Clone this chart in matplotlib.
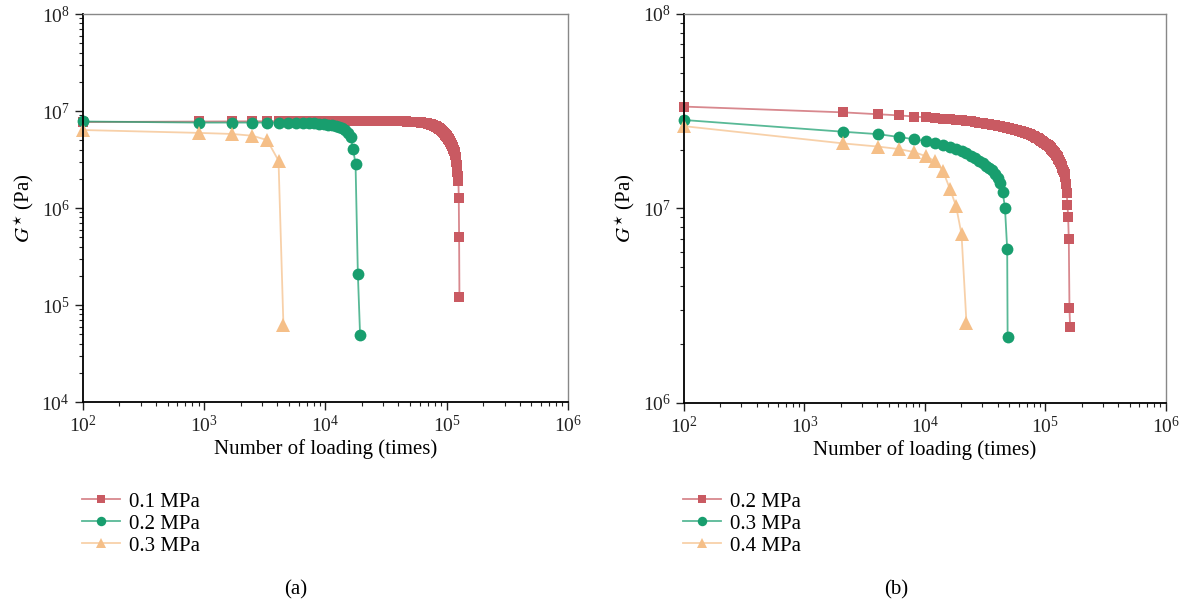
import numpy as np
import matplotlib.pyplot as plt
from matplotlib.ticker import LogLocator, NullFormatter
from matplotlib.colors import to_rgba

plt.rcParams['font.family'] = ['Liberation Serif', 'DejaVu Serif']
plt.rcParams['mathtext.fontset'] = 'stix'

# ---- (a) data: G* in MPa-scale (x1e6 Pa) ----
a_red_x = [
    100, 900, 1700, 2500, 3300, 4100, 4900, 5700, 6500, 7300,
    8100, 8900, 9700, 10500, 11300, 12100, 12900, 13700, 14500, 15300,
    16100, 16900, 17700, 18500, 19300, 20100, 20900, 21700, 22500, 23300,
    24100, 24900, 25700, 26500, 27300, 28100, 28900, 29700, 30500, 31300,
    32100, 32900, 33700, 34500, 35300, 36100, 36900, 37700, 38500, 39300,
    40100, 40900, 41700, 42500, 43300, 44100, 44900, 45700, 46500, 47300,
    48100, 48900, 49700, 50500, 51300, 52100, 52900, 53700, 54500, 55300,
    56100, 56900, 57700, 58500, 59300, 60100, 60900, 61700, 62500, 63300,
    64100, 64900, 65700, 66500, 67300, 68100, 68900, 69700, 70500, 71300,
    72100, 72900, 73700, 74500, 75300, 76100, 76900, 77700, 78500, 79300,
    80100, 80900, 81700, 82500, 83300, 84100, 84900, 85700, 86500, 87300,
    88100, 88900, 89700, 90500, 91300, 92100, 92900, 93700, 94500, 95300,
    96100, 96900, 97700, 98500, 99300, 100100, 100900, 101700, 102500, 103300,
    104100, 104900, 105700, 106500, 107300, 108100, 108900, 109700, 110500, 111300,
    112100, 112900, 113700, 114500, 115300, 116100, 116900, 117700, 118500, 119300,
    120100, 120900, 121700, 122500, 123300, 124100, 124900, 125700, 126500, 127300,
]
a_red_y = [
    7.70, 7.80, 7.82, 7.84, 7.85, 7.85, 7.86, 7.86, 7.86, 7.86,
    7.86, 7.86, 7.86, 7.86, 7.86, 7.86, 7.86, 7.86, 7.86, 7.86,
    7.86, 7.86, 7.86, 7.86, 7.86, 7.85, 7.85, 7.85, 7.85, 7.85,
    7.85, 7.85, 7.85, 7.85, 7.85, 7.85, 7.85, 7.85, 7.85, 7.85,
    7.84, 7.84, 7.84, 7.84, 7.84, 7.84, 7.84, 7.84, 7.83, 7.83,
    7.83, 7.83, 7.83, 7.82, 7.82, 7.81, 7.81, 7.80, 7.80, 7.79,
    7.78, 7.78, 7.77, 7.76, 7.75, 7.74, 7.73, 7.72, 7.71, 7.70,
    7.69, 7.68, 7.67, 7.66, 7.64, 7.63, 7.62, 7.60, 7.59, 7.57,
    7.56, 7.54, 7.52, 7.51, 7.49, 7.47, 7.45, 7.42, 7.40, 7.37,
    7.35, 7.32, 7.29, 7.26, 7.22, 7.19, 7.15, 7.11, 7.07, 7.03,
    6.98, 6.94, 6.89, 6.84, 6.79, 6.73, 6.68, 6.62, 6.56, 6.52,
    6.48, 6.42, 6.36, 6.30, 6.24, 6.17, 6.10, 6.03, 5.96, 5.89,
    5.82, 5.75, 5.68, 5.61, 5.54, 5.47, 5.40, 5.33, 5.26, 5.19,
    5.12, 5.05, 4.96, 4.87, 4.78, 4.69, 4.60, 4.51, 4.42, 4.33,
    4.24, 4.15, 4.06, 3.97, 3.88, 3.79, 3.65, 3.50, 3.34, 3.17,
    2.98, 2.78, 2.56, 2.35, 2.15, 2.00, 1.88, 1.27, 0.50, 0.121,
]
a_green_x = [100, 900, 1700, 2500, 3300, 4100, 4900, 5700, 6500, 7300,
             8100, 8900, 9700, 10500, 11300, 12100, 12900, 13700, 14500, 15300,
             16100, 16900, 17700, 18500, 19300]
a_green_y = [7.80, 7.60, 7.60, 7.60, 7.60, 7.60, 7.60, 7.55, 7.50, 7.50,
             7.45, 7.40, 7.35, 7.25, 7.15, 7.05, 6.90, 6.70, 6.40, 6.00,
             5.40, 4.05, 2.85, 0.21, 0.049]
a_orange_x = [100, 900, 1700, 2500, 3300, 4100, 4500]
a_orange_y = [6.37, 5.95, 5.80, 5.56, 5.02, 3.08, 0.062]

# ---- (b) data ----
b_red_x = [
    100, 2100, 4100, 6100, 8100, 10100, 12100, 14100, 16100, 18100,
    20100, 22100, 24100, 26100, 28100, 30100, 32100, 34100, 36100, 38100,
    40100, 42100, 44100, 46100, 48100, 50100, 52100, 54100, 56100, 58100,
    60100, 62100, 64100, 66100, 68100, 70100, 72100, 74100, 76100, 78100,
    80100, 82100, 84100, 86100, 88100, 90100, 92100, 94100, 96100, 98100,
    100100, 102100, 104100, 106100, 108100, 110100, 112100, 114100, 116100, 118100,
    120100, 122100, 124100, 126100, 128100, 130100, 132100, 134100, 136100, 138100,
    140100, 142100, 144100, 146100, 148100, 150100, 152100, 154100, 156100, 158100,
    160100,
]
b_red_y = [
    33.4, 31.2, 30.5, 30.1, 29.7, 29.4, 29.2, 29.0, 28.8, 28.6,
    28.4, 28.2, 28.0, 27.8, 27.6, 27.4, 27.25, 27.1, 26.95, 26.8,
    26.65, 26.5, 26.35, 26.2, 26.05, 25.9, 25.75, 25.6, 25.45, 25.3,
    25.15, 25.0, 24.85, 24.7, 24.55, 24.4, 24.25, 24.1, 23.9, 23.7,
    23.5, 23.3, 23.1, 22.9, 22.7, 22.5, 22.3, 22.1, 21.9, 21.7,
    21.5, 21.3, 21.1, 20.9, 20.7, 20.5, 20.3, 20.0, 19.8, 19.5,
    19.2, 18.9, 18.6, 18.3, 18.0, 17.7, 17.4, 17.0, 16.6, 16.2,
    15.8, 15.4, 15.0, 14.6, 13.3, 12.0, 10.4, 9.08, 6.94, 3.07,
    2.45,
]
b_green_x = [100, 2100, 4100, 6100, 8100, 10100, 12100, 14100, 16100, 18100,
             20100, 22100, 24100, 26100, 28100, 30100, 32100, 34100, 36100, 38100,
             40100, 42100, 44100, 46100, 48100, 48500]
b_green_y = [28.5, 24.8, 24.1, 23.3, 22.7, 22.2, 21.7, 21.2, 20.7, 20.2,
             19.7, 19.2, 18.7, 18.1, 17.6, 17.1, 16.6, 16.1, 15.7, 15.0,
             14.3, 13.5, 12.2, 10.1, 6.19, 2.18]
b_orange_x = [100, 2100, 4100, 6100, 8100, 10100, 12100, 14100, 16100, 18100, 20100, 22100]
b_orange_y = [26.5, 21.6, 20.8, 20.2, 19.5, 18.6, 17.5, 15.6, 12.6, 10.3, 7.37, 2.57]

labels_a = ['0.1 MPa', '0.2 MPa', '0.3 MPa']
labels_b = ['0.2 MPa', '0.3 MPa', '0.4 MPa']

RED = '#C95A62'
GREEN = '#189E6E'
ORANGE = '#F5BF88'


def draw(ax, x, y, color, marker, ms, label):
    ax.plot(x, np.array(y) * 1e6, color=to_rgba(color, 0.72), lw=1.3,
            marker=marker, ms=ms, mfc=color, mec=color, mew=0, label=label,
            clip_on=False)


def style(ax, ylo, yhi):
    ax.set_xscale('log')
    ax.set_yscale('log')
    ax.set_xlim(1e2, 1e6)
    ax.set_ylim(ylo, yhi)
    for axis in (ax.xaxis, ax.yaxis):
        axis.set_major_locator(LogLocator(base=10, numticks=10))
        axis.set_minor_locator(LogLocator(base=10, subs=np.arange(2, 10), numticks=30))
        axis.set_minor_formatter(NullFormatter())
    ax.tick_params(which='both', direction='out', top=False, right=False,
                   labelsize=14, colors='#222222')
    ax.tick_params(which='major', length=6, width=1)
    ax.tick_params(which='minor', length=3, width=0.8)
    ax.spines['left'].set_linewidth(1.3)
    ax.spines['bottom'].set_linewidth(1.3)
    for s in ('top', 'right'):
        ax.spines[s].set_color('#888888')
        ax.spines[s].set_linewidth(1.0)
    ax.set_xlabel('Number of loading (times)', fontsize=15, labelpad=2)
    ax.set_ylabel(r'$G^{\star}$ (Pa)', fontsize=15, labelpad=4)


fig = plt.figure(figsize=(11.97, 6.07), dpi=100)
ax1 = fig.add_axes([0.0693, 0.3377, 0.4052, 0.6392])
ax2 = fig.add_axes([0.5714, 0.3361, 0.4027, 0.6409])

draw(ax1, a_red_x, a_red_y, RED, 's', 7.5, labels_a[0])
draw(ax1, a_green_x, a_green_y, GREEN, 'o', 8.5, labels_a[1])
draw(ax1, a_orange_x, a_orange_y, ORANGE, '^', 9.5, labels_a[2])
style(ax1, 1e4, 1e8)

draw(ax2, b_red_x, b_red_y, RED, 's', 7.5, labels_b[0])
draw(ax2, b_green_x, b_green_y, GREEN, 'o', 8.5, labels_b[1])
draw(ax2, b_orange_x, b_orange_y, ORANGE, '^', 9.5, labels_b[2])
style(ax2, 1e6, 1e8)

for ax, xpos in ((ax1, 82 / 1197), (ax2, 683 / 1197)):
    ax.legend(loc='upper left', bbox_to_anchor=(xpos, 1 - 492 / 607),
              bbox_transform=fig.transFigure, frameon=False, fontsize=15,
              handlelength=1.8, handletextpad=0.45, labelspacing=0.12,
              borderpad=0, borderaxespad=0, markerscale=0.8)

fig.text(296 / 1197, 1 - 590 / 607, '(a)', ha='center', va='center', fontsize=15)
fig.text(896 / 1197, 1 - 590 / 607, '(b)', ha='center', va='center', fontsize=15)

fig.savefig('out.png', dpi=100)
